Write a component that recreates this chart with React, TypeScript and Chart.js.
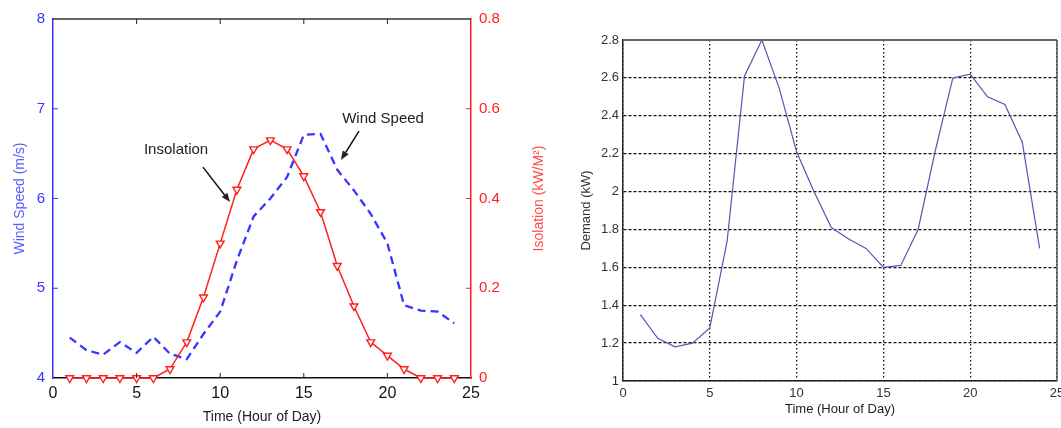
import React, { useEffect, useRef } from "react";
import { Chart, registerables } from "chart.js";

Chart.register(...registerables);

// ---- data ----
const hours = [1, 2, 3, 4, 5, 6, 7, 8, 9, 10, 11, 12, 13, 14, 15, 16, 17, 18, 19, 20, 21, 22, 23, 24];
const windSpeed = [4.45, 4.31, 4.26, 4.4, 4.28, 4.46, 4.27, 4.21, 4.49, 4.74, 5.31, 5.8, 6.0, 6.24, 6.71, 6.72, 6.32, 6.09, 5.83, 5.5, 4.81, 4.75, 4.74, 4.61];
const insolation = [0, 0, 0, 0, 0, 0, 0.02, 0.08, 0.18, 0.3, 0.42, 0.51, 0.53, 0.51, 0.45, 0.37, 0.25, 0.16, 0.08, 0.05, 0.02, 0, 0, 0];
const demand = [1.35, 1.225, 1.18, 1.2, 1.28, 1.74, 2.61, 2.8, 2.545, 2.21, 2.0, 1.81, 1.75, 1.7, 1.6, 1.61, 1.8, 2.22, 2.6, 2.62, 2.5, 2.46, 2.26, 1.7];

const hourTicks = [0, 5, 10, 15, 20, 25];
const windTicks = [4, 5, 6, 7, 8];
const insolationTicks = [0, 0.2, 0.4, 0.6, 0.8];
const demandTicks = [1, 1.2, 1.4, 1.6, 1.8, 2, 2.2, 2.4, 2.6, 2.8];

const xTitle = "Time (Hour of Day)";
const windTitle = "Wind Speed (m/s)";
const insolationTitle = "Isolation (kW/M²)";
const demandTitle = "Demand (kW)";
const annotationLabels = ["Insolation", "Wind Speed"];

// annotation anchors in data coordinates (hour, wind speed)
const annotationText = [
  [7.36, 6.54],
  [19.74, 6.886],
];
const annotationArrows = [
  [8.97, 6.35, 10.59, 5.96],
  [18.3, 6.75, 17.22, 6.43],
];

const FONT = "'Liberation Sans', Arial, Helvetica, sans-serif";
const BLUE = "#3535ff";
const RED = "#ff1f1f";

const fixTicks = (arr: number[]) => (s: any) => {
  s.ticks = arr.map((v) => ({ value: v }));
};
const fmt = (v: any) => String(Math.round(Number(v) * 10) / 10);

const leftDecor = {
  id: "leftDecor",
  afterDraw(chart: any) {
    const { ctx, chartArea: a, scales } = chart;
    const x = scales.x;
    const y = scales.y;
    const y1 = scales.y1;
    const line = (x1: number, yy1: number, x2: number, yy2: number) => {
      ctx.beginPath();
      ctx.moveTo(x1, yy1);
      ctx.lineTo(x2, yy2);
      ctx.stroke();
    };
    ctx.save();
    ctx.strokeStyle = "#333";
    ctx.lineWidth = 1.5;
    line(a.left, a.top, a.right, a.top);
    const tl = 5;
    ctx.lineWidth = 1;
    ctx.strokeStyle = "#222";
    hourTicks.slice(1, -1).forEach((v) => {
      const px = x.getPixelForValue(v);
      line(px, a.bottom, px, a.bottom - tl);
      line(px, a.top, px, a.top + tl);
    });
    ctx.strokeStyle = BLUE;
    windTicks.slice(1, -1).forEach((v) => {
      const py = y.getPixelForValue(v);
      line(a.left, py, a.left + tl, py);
    });
    ctx.strokeStyle = RED;
    insolationTicks.slice(1, -1).forEach((v) => {
      const py = y1.getPixelForValue(v);
      line(a.right, py, a.right - tl, py);
    });
    // right axis title (reads bottom-to-top)
    ctx.save();
    ctx.translate(539, (a.top + a.bottom) / 2);
    ctx.rotate(-Math.PI / 2);
    ctx.fillStyle = "#ff4a4a";
    ctx.font = `14px ${FONT}`;
    ctx.textAlign = "center";
    ctx.textBaseline = "middle";
    ctx.fillText(insolationTitle, 0, 0);
    ctx.restore();
    // annotations
    ctx.fillStyle = "#222";
    ctx.font = `15px ${FONT}`;
    ctx.textAlign = "center";
    ctx.textBaseline = "middle";
    annotationLabels.forEach((t, i) => {
      const [hx, wy] = annotationText[i];
      ctx.fillText(t, x.getPixelForValue(hx), y.getPixelForValue(wy));
    });
    ctx.strokeStyle = "#111";
    ctx.lineWidth = 1.5;
    annotationArrows.forEach(([h1, w1, h2, w2]) => {
      const sx = x.getPixelForValue(h1);
      const sy = y.getPixelForValue(w1);
      const ex = x.getPixelForValue(h2);
      const ey = y.getPixelForValue(w2);
      const ang = Math.atan2(ey - sy, ex - sx);
      const hl = 9;
      const hw = 3.5;
      const bx = ex - hl * Math.cos(ang);
      const by = ey - hl * Math.sin(ang);
      line(sx, sy, bx, by);
      ctx.beginPath();
      ctx.moveTo(ex, ey);
      ctx.lineTo(bx + hw * Math.sin(ang), by - hw * Math.cos(ang));
      ctx.lineTo(bx - hw * Math.sin(ang), by + hw * Math.cos(ang));
      ctx.closePath();
      ctx.fill();
    });
    ctx.restore();
  },
};

const rightDecor = {
  id: "rightDecor",
  afterDraw(chart: any) {
    const { ctx, chartArea: a } = chart;
    ctx.save();
    ctx.strokeStyle = "#666";
    ctx.lineWidth = 2;
    ctx.beginPath();
    ctx.moveTo(a.left, a.top);
    ctx.lineTo(a.right, a.top);
    ctx.stroke();
    ctx.strokeStyle = "#555";
    ctx.lineWidth = 1.5;
    ctx.beginPath();
    ctx.moveTo(a.right, a.top);
    ctx.lineTo(a.right, a.bottom);
    ctx.stroke();
    ctx.restore();
  },
};

function leftConfig(): any {
  return {
    type: "line",
    data: {
      datasets: [
        {
          label: "Insolation",
          data: hours.map((h, i) => ({ x: h, y: insolation[i] })),
          yAxisID: "y1",
          borderColor: RED,
          borderWidth: 1.5,
          pointStyle: "triangle",
          rotation: 180,
          pointRadius: 4.5,
          pointBackgroundColor: "#ffffff",
          pointBorderColor: RED,
          pointBorderWidth: 1.4,
          tension: 0,
          clip: false,
        },
        {
          label: "Wind Speed",
          data: hours.map((h, i) => ({ x: h, y: windSpeed[i] })),
          yAxisID: "y",
          borderColor: BLUE,
          borderWidth: 2.3,
          borderDash: [8, 5],
          pointRadius: 0,
          tension: 0,
        },
      ],
    },
    options: {
      responsive: false,
      animation: false,
      layout: { padding: { top: 19, left: 0, right: 0, bottom: 0 } },
      plugins: { legend: { display: false }, tooltip: { enabled: false } },
      scales: {
        x: {
          type: "linear",
          min: 0,
          max: 25,
          afterBuildTicks: fixTicks(hourTicks),
          afterFit: (s: any) => {
            s.height = 50;
            s.paddingLeft = 0;
            s.paddingRight = 0;
          },
          grid: { display: false, drawTicks: false },
          border: { color: "#111", width: 1.5 },
          ticks: { color: "#111", font: { family: FONT, size: 16 }, padding: 6, callback: fmt, maxRotation: 0 },
          title: { display: true, text: xTitle, color: "#222", font: { family: FONT, size: 14 }, padding: { top: 0, bottom: 2 } },
        },
        y: {
          type: "linear",
          position: "left",
          min: 4,
          max: 8,
          afterBuildTicks: fixTicks(windTicks),
          afterFit: (s: any) => {
            s.width = 53;
            s.paddingTop = 0;
            s.paddingBottom = 0;
          },
          grid: { display: false, drawTicks: false },
          border: { color: BLUE, width: 1.5 },
          ticks: { color: BLUE, font: { family: FONT, size: 15 }, padding: 8, callback: fmt },
          title: { display: true, text: windTitle, color: "#5b5bff", font: { family: FONT, size: 14 }, padding: { top: 12, bottom: 0 } },
        },
        y1: {
          type: "linear",
          position: "right",
          min: 0,
          max: 0.8,
          afterBuildTicks: fixTicks(insolationTicks),
          afterFit: (s: any) => {
            s.width = 89;
            s.paddingTop = 0;
            s.paddingBottom = 0;
          },
          grid: { display: false, drawTicks: false },
          border: { color: RED, width: 1.5 },
          ticks: { color: RED, font: { family: FONT, size: 15 }, padding: 8, callback: fmt },
        },
      },
    },
    plugins: [leftDecor],
  };
}

function rightConfig(): any {
  return {
    type: "line",
    data: {
      datasets: [
        {
          label: "Demand",
          data: hours.map((h, i) => ({ x: h, y: demand[i] })),
          borderColor: "#5457b2",
          borderWidth: 1.2,
          pointRadius: 0,
          tension: 0,
        },
      ],
    },
    options: {
      responsive: false,
      animation: false,
      layout: { padding: { top: 40, left: 0, right: 4, bottom: 0 } },
      plugins: { legend: { display: false }, tooltip: { enabled: false } },
      scales: {
        x: {
          type: "linear",
          min: 0,
          max: 25,
          afterBuildTicks: fixTicks(hourTicks),
          afterFit: (s: any) => {
            s.height = 47;
            s.paddingLeft = 0;
            s.paddingRight = 0;
          },
          grid: { display: true, drawTicks: false, color: "#111", lineWidth: 1.3 },
          border: { color: "#222", width: 1.5, dash: [1.5, 2.5] },
          ticks: { color: "#333", font: { family: FONT, size: 13 }, padding: 5, callback: fmt, maxRotation: 0 },
          title: { display: true, text: xTitle, color: "#222", font: { family: FONT, size: 13 }, padding: { top: 0, bottom: 11 } },
        },
        y: {
          type: "linear",
          min: 1,
          max: 2.8,
          afterBuildTicks: fixTicks(demandTicks),
          afterFit: (s: any) => {
            s.width = 63;
            s.paddingTop = 0;
            s.paddingBottom = 0;
          },
          grid: { display: true, drawTicks: false, color: "#111", lineWidth: 1.3 },
          border: { color: "#222", width: 1.5, dash: [3, 2] },
          ticks: { color: "#333", font: { family: FONT, size: 13 }, padding: 4, callback: fmt },
          title: { display: true, text: demandTitle, color: "#333", font: { family: FONT, size: 13 }, padding: { top: 19, bottom: 0 } },
        },
      },
    },
    plugins: [rightDecor],
  };
}

export default function App() {
  const leftRef = useRef<HTMLCanvasElement>(null);
  const rightRef = useRef<HTMLCanvasElement>(null);
  useEffect(() => {
    const c1 = new Chart(leftRef.current as HTMLCanvasElement, leftConfig());
    const c2 = new Chart(rightRef.current as HTMLCanvasElement, rightConfig());
    return () => {
      c1.destroy();
      c2.destroy();
    };
  }, []);
  return (
    <div style={{ position: "absolute", left: 0, top: 0, width: 1061, height: 428, background: "#fff", overflow: "hidden" }}>
      <canvas ref={leftRef} width={560} height={428} style={{ position: "absolute", left: 0, top: 0, width: 560, height: 428 }} />
      <canvas ref={rightRef} width={501} height={428} style={{ position: "absolute", left: 560, top: 0, width: 501, height: 428 }} />
    </div>
  );
}
